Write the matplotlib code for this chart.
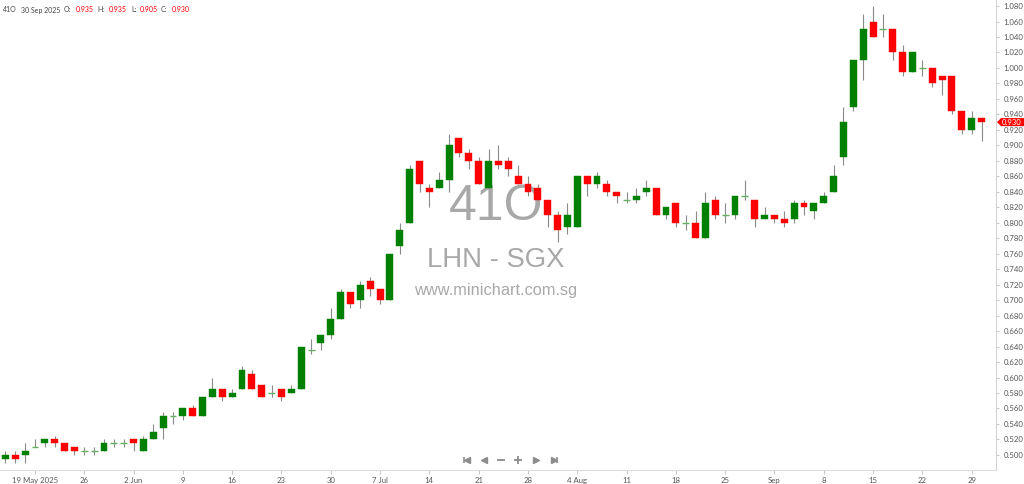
import numpy as np
import pandas as pd
import matplotlib
matplotlib.use("Agg")
import matplotlib.pyplot as plt
from matplotlib.lines import Line2D
from matplotlib.patches import Polygon
from matplotlib.transforms import blended_transform_factory

plt.rcParams["font.family"] = ["Lato", "DejaVu Sans"]

# ---------------------------------------------------------------- data
dates = pd.bdate_range("2025-05-14", "2025-09-30")

opens = [0.495, 0.500, 0.500, 0.510, 0.515, 0.520, 0.515, 0.510, 0.505, 0.505,
         0.505, 0.515, 0.515, 0.520, 0.505, 0.520, 0.535, 0.550, 0.550, 0.560,
         0.550, 0.575, 0.585, 0.575, 0.585, 0.605, 0.590, 0.580, 0.585, 0.580,
         0.585, 0.635, 0.645, 0.655, 0.675, 0.710, 0.700, 0.725, 0.715, 0.700,
         0.770, 0.800, 0.880, 0.845, 0.845, 0.855, 0.910, 0.890, 0.880, 0.845,
         0.880, 0.880, 0.860, 0.850, 0.845, 0.830, 0.810, 0.795, 0.795, 0.860,
         0.850, 0.850, 0.840, 0.830, 0.830, 0.840, 0.845, 0.810, 0.825, 0.800,
         0.800, 0.780, 0.830, 0.810, 0.810, 0.835, 0.830, 0.805, 0.810, 0.805,
         0.805, 0.825, 0.815, 0.825, 0.840, 0.885, 0.950, 1.010, 1.060, 1.050,
         1.050, 1.020, 0.995, 1.000, 1.000, 0.990, 0.990, 0.945, 0.920, 0.935]
highs = [0.505, 0.505, 0.515, 0.520, 0.520, 0.525, 0.515, 0.510, 0.510, 0.510,
         0.520, 0.520, 0.520, 0.520, 0.525, 0.540, 0.555, 0.555, 0.560, 0.565,
         0.575, 0.600, 0.585, 0.585, 0.615, 0.610, 0.590, 0.590, 0.585, 0.590,
         0.640, 0.650, 0.655, 0.690, 0.715, 0.710, 0.725, 0.730, 0.715, 0.760,
         0.800, 0.875, 0.880, 0.850, 0.865, 0.915, 0.910, 0.895, 0.885, 0.895,
         0.900, 0.885, 0.875, 0.860, 0.850, 0.830, 0.815, 0.825, 0.860, 0.860,
         0.865, 0.855, 0.840, 0.840, 0.845, 0.855, 0.845, 0.820, 0.825, 0.810,
         0.815, 0.840, 0.835, 0.825, 0.835, 0.855, 0.830, 0.820, 0.810, 0.815,
         0.830, 0.830, 0.825, 0.840, 0.875, 0.950, 1.010, 1.070, 1.080, 1.070,
         1.050, 1.030, 1.020, 1.010, 1.000, 0.990, 0.990, 0.945, 0.945, 0.935]
lows = [0.490, 0.490, 0.490, 0.510, 0.510, 0.510, 0.505, 0.500, 0.500, 0.500,
        0.505, 0.510, 0.510, 0.505, 0.505, 0.520, 0.520, 0.540, 0.545, 0.550,
        0.550, 0.575, 0.570, 0.575, 0.585, 0.585, 0.575, 0.575, 0.570, 0.580,
        0.585, 0.630, 0.635, 0.650, 0.675, 0.690, 0.690, 0.705, 0.695, 0.700,
        0.760, 0.800, 0.840, 0.820, 0.845, 0.840, 0.885, 0.870, 0.850, 0.845,
        0.870, 0.860, 0.850, 0.835, 0.830, 0.795, 0.775, 0.785, 0.795, 0.835,
        0.845, 0.835, 0.825, 0.825, 0.825, 0.835, 0.810, 0.805, 0.795, 0.790,
        0.780, 0.780, 0.805, 0.800, 0.805, 0.830, 0.795, 0.805, 0.800, 0.795,
        0.800, 0.810, 0.805, 0.825, 0.840, 0.875, 0.945, 0.985, 1.040, 1.040,
        1.010, 0.990, 0.995, 0.990, 0.975, 0.965, 0.940, 0.915, 0.915, 0.905]
closes = [0.500, 0.495, 0.505, 0.510, 0.520, 0.515, 0.505, 0.505, 0.505, 0.505,
          0.515, 0.515, 0.515, 0.515, 0.520, 0.530, 0.550, 0.550, 0.560, 0.550,
          0.575, 0.585, 0.575, 0.580, 0.610, 0.585, 0.575, 0.580, 0.575, 0.585,
          0.640, 0.635, 0.655, 0.675, 0.710, 0.695, 0.720, 0.715, 0.700, 0.760,
          0.790, 0.870, 0.850, 0.840, 0.855, 0.900, 0.890, 0.880, 0.850, 0.880,
          0.875, 0.870, 0.850, 0.840, 0.830, 0.810, 0.790, 0.810, 0.860, 0.850,
          0.860, 0.840, 0.835, 0.830, 0.835, 0.845, 0.810, 0.820, 0.800, 0.800,
          0.780, 0.825, 0.810, 0.810, 0.835, 0.835, 0.805, 0.810, 0.805, 0.800,
          0.825, 0.820, 0.825, 0.835, 0.860, 0.930, 1.010, 1.050, 1.040, 1.050,
          1.020, 0.995, 1.020, 1.000, 0.980, 0.985, 0.945, 0.920, 0.935, 0.930]

tick_dates = ["2025-05-19", "2025-05-26", "2025-06-02", "2025-06-09", "2025-06-16",
              "2025-06-23", "2025-06-30", "2025-07-07", "2025-07-14", "2025-07-21",
              "2025-07-28", "2025-08-04", "2025-08-11", "2025-08-18", "2025-08-25",
              "2025-09-01", "2025-09-08", "2025-09-15", "2025-09-22", "2025-09-29"]
tick_labels = ["19 May 2025", "26", "2 Jun", "9", "16", "23", "30", "7 Jul", "14",
               "21", "28", "4 Aug", "11", "18", "25", "Sep", "8", "15", "22", "29"]

yticks = np.round(np.arange(0.50, 1.0801, 0.02), 3)

# ---------------------------------------------------------------- figure
W, H = 1024, 484
fig = plt.figure(figsize=(W / 100, H / 100), dpi=100)
ax = fig.add_axes([0, 14 / H, 996 / W, 1 - 14 / H])

o = np.array(opens); h = np.array(highs); l = np.array(lows); c = np.array(closes)
x = np.arange(len(dates))

GREEN, RED, DOJI = "#008000", "#ff0000", "#62b062"

ax.vlines(x, l, h, color="#8a8a8a", lw=0.8, zorder=1)
body = np.abs(c - o)
flat = body < 1e-9
cols = np.where(c > o, GREEN, RED)
ax.bar(x[~flat], body[~flat], bottom=np.minimum(o, c)[~flat], width=0.7,
       color=cols[~flat], edgecolor=cols[~flat], linewidth=0.3, zorder=2)
ax.hlines(o[flat], x[flat] - 0.35, x[flat] + 0.35, color=DOJI, lw=1.0, zorder=2)

ax.set_xlim(-0.548, 100.47)
ax.set_ylim(0.4805, 1.0878)

# axes styling
for s in ["top", "left"]:
    ax.spines[s].set_visible(False)
ax.spines["right"].set_color("#d4d4d4")
ax.spines["bottom"].set_color("#dcdcdc")
ax.spines["right"].set_linewidth(0.8)
ax.spines["bottom"].set_linewidth(0.8)

ax.yaxis.tick_right()
ax.set_yticks(yticks)
ax.set_yticklabels([f"{v:.3f}" for v in yticks])
ax.tick_params(axis="y", labelsize=5.6, colors="#bbbbbb", labelcolor="#555555",
               length=2.5, width=0.6, pad=3)

tpos = [dates.get_loc(pd.Timestamp(d)) for d in tick_dates]
ax.set_xticks(tpos)
ax.set_xticklabels(tick_labels)
ax.tick_params(axis="x", labelsize=5.6, colors="#bbbbbb", labelcolor="#555555",
               length=3, width=0.6, pad=2)

# watermark
wm = dict(ha="center", va="baseline", color="#a8a8a8", family="Liberation Sans", zorder=0)
ax.text(496 / 996, 1 - 220 / 470, "41O", transform=ax.transAxes, fontsize=36, **wm)
ax.text(496 / 996, 1 - 267 / 470, "LHN - SGX", transform=ax.transAxes, fontsize=19.8, **wm)
ax.text(496 / 996, 1 - 295 / 470, "www.minichart.com.sg", transform=ax.transAxes,
        fontsize=11.8, **wm)

# header line
hdr = [(3, "41O", "#444444"), (21, "30 Sep 2025", "#444444"),
       (64, "O:", "#444444"), (76, f"{opens[-1]:.3f}", RED),
       (97, "H:", "#444444"), (109, f"{highs[-1]:.3f}", RED),
       (131, "L:", "#444444"), (140, f"{lows[-1]:.3f}", RED),
       (161, "C:", "#444444"), (172, f"{closes[-1]:.3f}", RED)]
for px, txt, col in hdr:
    fig.text(px / W, 1 - 10 / H, txt, fontsize=5.0, color=col, ha="left", va="center")

# last price tag
trans = blended_transform_factory(fig.transFigure, ax.transData)
last = closes[-1]
hh = 0.0052
tag = Polygon([(997 / W, last), (1001 / W, last + hh), (1024 / W, last + hh),
               (1024 / W, last - hh), (1001 / W, last - hh)],
              closed=True, transform=trans, facecolor=RED, edgecolor="none",
              clip_on=False, zorder=5)
ax.add_patch(tag)
ax.text(1012 / W, last, f"{last:.3f}", transform=trans, fontsize=5.6, color="white",
        ha="center", va="center", clip_on=False, zorder=6)

# navigation buttons
ny = 1 - 460 / H
nav_col = "#8c8c8c"
def mark(px, m, ms, mew=1.0):
    fig.add_artist(Line2D([px / W], [ny], marker=m, markersize=ms, color=nav_col,
                          markeredgewidth=mew, linestyle="none",
                          transform=fig.transFigure))
mark(463.5, "|", 5, 1.2); mark(466.5, "<", 4.5)
mark(484, "<", 4.5)
mark(501, "_", 6, 1.3)
mark(518, "+", 6, 1.3)
mark(536, ">", 4.5)
mark(553.5, ">", 4.5); mark(556.5, "|", 5, 1.2)

fig.savefig("out.png", dpi=100)
